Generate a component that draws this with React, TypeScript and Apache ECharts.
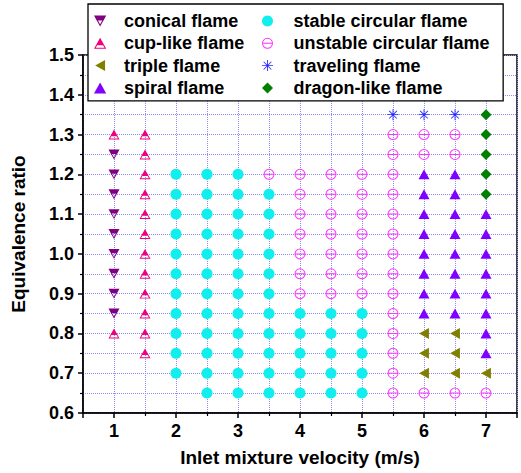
import React, { useEffect, useRef } from "react";
import * as echarts from "echarts";

// ---- data (x: inlet mixture velocity m/s, y: equivalence ratio) ----
const conicalFlame: number[][] = [
  [1, 1.25], [1, 1.2], [1, 1.15], [1, 1.1], [1, 1.05], [1, 1.0], [1, 0.95], [1, 0.9], [1, 0.85],
];
const cupLikeFlame: number[][] = [
  [1, 1.3], [1, 0.8],
  [1.5, 1.3], [1.5, 1.25], [1.5, 1.2], [1.5, 1.15], [1.5, 1.1], [1.5, 1.05], [1.5, 1.0],
  [1.5, 0.95], [1.5, 0.9], [1.5, 0.85], [1.5, 0.8], [1.5, 0.75],
];
const tripleFlame: number[][] = [
  [6, 0.8], [6, 0.75], [6, 0.7],
  [6.5, 0.8], [6.5, 0.75], [6.5, 0.7],
  [7, 0.7],
];
const spiralFlame: number[][] = [
  [6, 1.2], [6, 1.15], [6, 1.1], [6, 1.05], [6, 1.0], [6, 0.95], [6, 0.9], [6, 0.85],
  [6.5, 1.2], [6.5, 1.15], [6.5, 1.1], [6.5, 1.05], [6.5, 1.0], [6.5, 0.95], [6.5, 0.9], [6.5, 0.85],
  [7, 1.1], [7, 1.05], [7, 1.0], [7, 0.95], [7, 0.9], [7, 0.85], [7, 0.8], [7, 0.75],
];
const stableCircularFlame: number[][] = [
  [2, 1.2], [2, 1.15], [2, 1.1], [2, 1.05], [2, 1.0], [2, 0.95], [2, 0.9], [2, 0.85], [2, 0.8], [2, 0.75], [2, 0.7],
  [2.5, 1.2], [2.5, 1.15], [2.5, 1.1], [2.5, 1.05], [2.5, 1.0], [2.5, 0.95], [2.5, 0.9], [2.5, 0.85], [2.5, 0.8], [2.5, 0.75], [2.5, 0.7], [2.5, 0.65],
  [3, 1.2], [3, 1.15], [3, 1.1], [3, 1.05], [3, 1.0], [3, 0.95], [3, 0.9], [3, 0.85], [3, 0.8], [3, 0.75], [3, 0.7], [3, 0.65],
  [3.5, 1.15], [3.5, 1.1], [3.5, 1.05], [3.5, 1.0], [3.5, 0.95], [3.5, 0.9], [3.5, 0.85], [3.5, 0.8], [3.5, 0.75], [3.5, 0.7], [3.5, 0.65],
  [4, 0.85], [4, 0.8], [4, 0.75], [4, 0.7], [4, 0.65],
  [4.5, 0.85], [4.5, 0.8], [4.5, 0.75], [4.5, 0.7], [4.5, 0.65],
  [5, 0.85], [5, 0.8], [5, 0.75], [5, 0.7], [5, 0.65],
];
const unstableCircularFlame: number[][] = [
  [3.5, 1.2],
  [4, 1.2], [4, 1.15], [4, 1.1], [4, 1.05], [4, 1.0], [4, 0.95], [4, 0.9],
  [4.5, 1.2], [4.5, 1.15], [4.5, 1.1], [4.5, 1.05], [4.5, 1.0], [4.5, 0.95], [4.5, 0.9],
  [5, 1.2], [5, 1.15], [5, 1.1], [5, 1.05], [5, 1.0], [5, 0.95], [5, 0.9],
  [5.5, 1.3], [5.5, 1.25], [5.5, 1.2], [5.5, 1.15], [5.5, 1.1], [5.5, 1.05], [5.5, 1.0],
  [5.5, 0.95], [5.5, 0.9], [5.5, 0.85], [5.5, 0.8], [5.5, 0.75], [5.5, 0.7], [5.5, 0.65],
  [6, 1.3], [6, 1.25], [6, 0.65],
  [6.5, 1.3], [6.5, 1.25], [6.5, 0.65],
  [7, 0.65],
];
const travelingFlame: number[][] = [[5.5, 1.35], [6, 1.35], [6.5, 1.35]];
const dragonLikeFlame: number[][] = [[7, 1.35], [7, 1.3], [7, 1.25], [7, 1.2], [7, 1.15]];

const legendLeft = ["conical flame", "cup-like flame", "triple flame", "spiral flame"];
const legendRight = ["stable circular flame", "unstable circular flame", "traveling flame", "dragon-like flame"];

// ---- symbols ----
const SYM_CONICAL =
  "path://M0,0L20,0L10,18Z M2.72,1.8L10,14.5L17.28,1.8Z M0,0L20,0L15.6,8L4.4,8Z";
const SYM_CUP =
  "path://M10,0L20,18L0,18Z M10,3.6L2.9,16.2L17.1,16.2Z M10,0L16.7,12L3.3,12Z";
const SYM_TRIPLE = "path://M0,10L18,0L18,20Z";
const SYM_SPIRAL = "path://M10,0L20,18L0,18Z";
const SYM_UNSTABLE =
  "path://M0,10A10,10,0,1,1,20,10A10,10,0,1,1,0,10Z M1.8,10A8.2,8.2,0,1,0,18.2,10A8.2,8.2,0,1,0,1.8,10Z M1.8,9.1L18.2,9.1L18.2,10.9L1.8,10.9Z";
const SYM_TRAVEL =
  "path://M9.2,0L10.8,0L10.8,20L9.2,20Z M0,9.2L20,9.2L20,10.8L0,10.8Z M3.57,2.43L17.57,16.43L16.43,17.57L2.43,3.57Z M16.43,2.43L17.57,3.57L3.57,17.57L2.43,16.43Z";
const SYM_DRAGON = "path://M10,0L20,10L10,20L0,10Z";

const FONT = '"Liberation Sans", Arial, sans-serif';

export default function App() {
  const ref = useRef<HTMLDivElement>(null);

  useEffect(() => {
    if (!ref.current) return;
    const chart = echarts.init(ref.current, undefined, { renderer: "svg" });

    const grid = { color: "#8c8cff", type: "dotted" as const, width: 1 };
    const mk = (name: string, data: number[][], symbol: string, color: string, size = 11) => ({
      name,
      type: "scatter",
      data,
      symbol,
      symbolSize: size,
      symbolKeepAspect: true,
      itemStyle: { color, opacity: 1 },
      emphasis: { disabled: true },
      z: 2,
    });

    const legendBase = {
      orient: "vertical",
      itemHeight: 11,
      itemGap: 4.3,
      selectedMode: false,
      symbolKeepAspect: true,
      textStyle: { fontSize: 18, fontWeight: "bold", fontFamily: FONT, color: "#000", lineHeight: 18 },
    };

    chart.setOption({
      animation: false,
      backgroundColor: "#fff",
      grid: {
        left: 83,
        right: 4,
        top: 55,
        bottom: 60,
        show: true,
        borderColor: "#000",
        borderWidth: 1.5,
        backgroundColor: "transparent",
      },
      legend: [
        {
          ...legendBase,
          data: legendLeft,
          left: 88,
          top: 4,
          itemWidth: 38,
          padding: [8, 259, 4, 6],
          backgroundColor: "#fff",
          borderColor: "#000",
          borderWidth: 1.3,
          z: 5,
        },
        {
          ...legendBase,
          data: legendRight,
          left: 262,
          top: 12,
          itemWidth: 42,
          padding: 0,
          z: 6,
        },
      ],
      xAxis: {
        type: "value",
        min: 0.5,
        max: 7.5,
        splitNumber: 7,
        name: "Inlet mixture velocity (m/s)",
        nameLocation: "middle",
        nameGap: 35,
        nameTextStyle: { fontSize: 19, fontWeight: "bold", fontFamily: FONT, color: "#000" },
        axisLine: { show: true, onZero: false, lineStyle: { color: "#000", width: 1.5 } },
        axisTick: { show: true, inside: false, length: 5, lineStyle: { color: "#000", width: 1.5 } },
        minorTick: { show: true, splitNumber: 2, length: 3, lineStyle: { color: "#000", width: 1.2 } },
        axisLabel: {
          formatter: (v: number) => (Number.isInteger(v) ? String(v) : ""),
          color: "#000",
          fontSize: 18,
          fontWeight: "bold",
          fontFamily: FONT,
          margin: 9,
        },
        splitLine: { show: true, lineStyle: grid },
        minorSplitLine: { show: true, lineStyle: grid },
      },
      yAxis: {
        type: "value",
        min: 0.6,
        max: 1.5,
        interval: 0.1,
        name: "Equivalence ratio",
        nameLocation: "middle",
        nameGap: 55,
        nameTextStyle: { fontSize: 19, fontWeight: "bold", fontFamily: FONT, color: "#000" },
        axisLine: { show: true, onZero: false, lineStyle: { color: "#000", width: 1.5 } },
        axisTick: { show: true, inside: false, length: 5, lineStyle: { color: "#000", width: 1.5 } },
        minorTick: { show: true, splitNumber: 2, length: 3, lineStyle: { color: "#000", width: 1.2 } },
        axisLabel: {
          formatter: (v: number) => v.toFixed(1),
          color: "#000",
          fontSize: 18,
          fontWeight: "bold",
          fontFamily: FONT,
          margin: 9,
        },
        splitLine: { show: true, lineStyle: grid },
        minorSplitLine: { show: true, lineStyle: grid },
      },
      series: [
        mk("conical flame", conicalFlame, SYM_CONICAL, "#800080"),
        mk("cup-like flame", cupLikeFlame, SYM_CUP, "#f0007a"),
        mk("triple flame", tripleFlame, SYM_TRIPLE, "#808000"),
        mk("spiral flame", spiralFlame, SYM_SPIRAL, "#8000ff"),
        mk("stable circular flame", stableCircularFlame, "circle", "#10eeee"),
        mk("unstable circular flame", unstableCircularFlame, SYM_UNSTABLE, "#ff33ff"),
        mk("traveling flame", travelingFlame, SYM_TRAVEL, "#2a2aff"),
        mk("dragon-like flame", dragonLikeFlame, SYM_DRAGON, "#008000"),
      ],
    });

    return () => chart.dispose();
  }, []);

  return (
    <div
      ref={ref}
      style={{ position: "fixed", left: 0, top: 0, width: 521, height: 473, background: "#fff" }}
    />
  );
}
